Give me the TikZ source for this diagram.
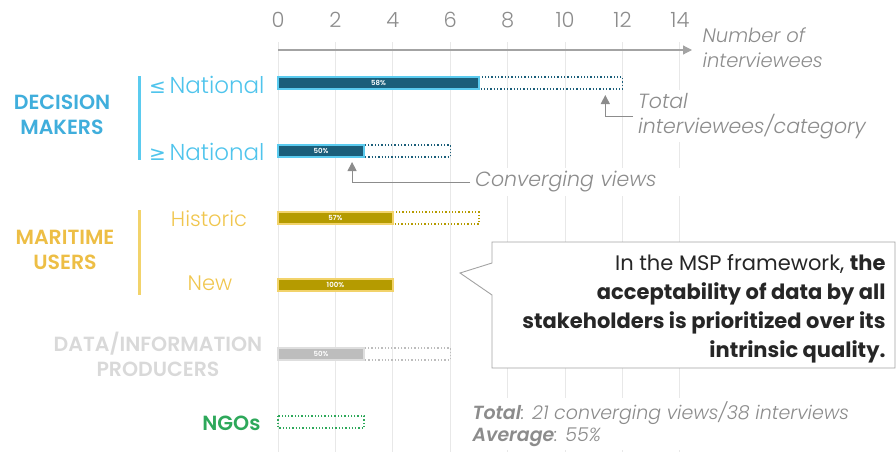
\documentclass[tikz,border=0pt]{standalone}
\usepackage{fontspec}
\IfFontExistsTF{Poppins Light}{%
  \setmainfont{Poppins}[UprightFont=* Light, ItalicFont=* Light Italic,
    BoldFont=* SemiBold, BoldItalicFont=* SemiBold Italic]}{%
  \setmainfont{Poppins}}
\newfontfamily\mspfont{Poppins}
\newfontfamily\symfont{DejaVu Sans}
\usetikzlibrary{arrows.meta}

\definecolor{dmdark}{HTML}{1B5E7A}
\definecolor{dmglow}{HTML}{5BCBEF}
\definecolor{dmtext}{HTML}{4FC4EC}
\definecolor{dmhead}{HTML}{40AEDC}
\definecolor{mudark}{HTML}{B59B00}
\definecolor{muglow}{HTML}{F2D36B}
\definecolor{mutext}{HTML}{F0C64E}
\definecolor{muhead}{HTML}{EDBE45}
\definecolor{dpdark}{HTML}{BDBDBD}
\definecolor{dpglow}{HTML}{DEDEDE}
\definecolor{dptext}{HTML}{D9D9D9}
\definecolor{ngodark}{HTML}{2DA85A}
\definecolor{annot}{HTML}{8C8C8C}
\definecolor{axisgrey}{HTML}{A3A3A3}
\definecolor{gridgrey}{HTML}{E8E8E8}

\tikzset{
  gridline/.style={gridgrey, line width=1pt},
  axisline/.style={axisgrey, line width=1.2pt, -{Triangle[width=9pt,length=9pt]}},
  ticklabel/.style={text=annot, font=\fontsize{21}{24}\selectfont},
  barfill/.style={fill=#1dark, draw=#1glow, line width=1.5pt},
  bartotal/.style={draw=#1dark, dotted, line width=1.3pt},
  barlabel/.style={text=white, font=\bfseries\fontsize{7}{8}\selectfont},
  grouphead/.style={font=\bfseries\fontsize{20.5}{25}\selectfont, align=center},
  sublabel/.style={font=\fontsize{23}{27}\selectfont},
  groupline/.style={line width=3pt},
  annotext/.style={text=annot, font=\itshape\fontsize{20.5}{25}\selectfont,
    align=left, fill=white, inner xsep=5pt},
  annoarrow/.style={annot, line width=1pt, -{Triangle[width=9pt,length=9pt]}},
  calloutbox/.style={draw=axisgrey, fill=white, line width=0.9pt},
}

\begin{document}
\begin{tikzpicture}[x=1pt, y=-1pt]
  \useasboundingbox (0,0) rectangle (896,452);

  % 目盛りと棒
  \begin{scope}[xshift=278pt, x=28.71pt]
    \foreach \v in {0,2,...,14}
      \draw[gridline] (\v,42) -- (\v,452);
    \foreach \v in {0,2,...,14}
      \node[ticklabel] (t\v) at (\v,20) {\v};
    \draw[axisline] (0,50) -- (14.42,50);

    \draw[bartotal=dm] (0,77) rectangle (12,89);
    \draw[barfill=dm] (0,77) rectangle (7,89);
    \draw[bartotal=dm] (0,145) rectangle (6,157);
    \draw[barfill=dm] (0,145) rectangle (3,157);
    \draw[bartotal=mu] (0,212) rectangle (7,224);
    \draw[barfill=mu] (0,212) rectangle (4,224);
    \draw[barfill=mu] (0,279) rectangle (4,291);
    \draw[bartotal=dp] (0,348) rectangle (6,360);
    \draw[barfill=dp] (0,348) rectangle (3,360);
    \draw[bartotal=ngo] (0,416) rectangle (3,428);

    \node[barlabel] (p1) at (3.5,83) {58\%};
    \node[barlabel] (p2) at (1.5,151) {50\%};
    \node[barlabel] (p3) at (2,218) {57\%};
    \node[barlabel] (p4) at (2,285) {100\%};
    \node[barlabel] (p5) at (1.5,354) {50\%};

    \coordinate (tottip) at (11.4,95);
    \coordinate (convtip) at (2.58,162);
  \end{scope}

  % 注記
  \node[text=annot, font=\itshape\fontsize{19.5}{25}\selectfont, align=left, anchor=west]
    (axislabel) at (699,48) {Number of\\interviewees};
  \node[annotext, anchor=west] (totnote) at (633,116) {Total\\interviewees/category};
  \node[annotext, anchor=west, text width=205pt] (convnote) at (470,182) {Converging views};
  \draw[annoarrow] (totnote.west) -| (tottip);
  \draw[annoarrow] (convnote.west) -| (convtip);

  % 左の見出し
  \node[grouphead, text=dmhead] (dm) at (62,115) {DECISION\\MAKERS};
  \draw[groupline, dmglow] (139,76) -- (139,160);
  \node[sublabel, text=dmtext, anchor=east] (dmlow) at (268,85)
    {{\symfont\fontsize{20}{24}\selectfont ≤}\,National};
  \node[sublabel, text=dmtext, anchor=east] (dmhigh) at (268,152)
    {{\symfont\fontsize{20}{24}\selectfont ≥}\,National};

  \node[grouphead, text=muhead] (mu) at (65,250) {MARITIME\\USERS};
  \draw[groupline, muglow] (139,210) -- (139,295);
  \node[sublabel, text=mutext, font=\fontsize{21}{24}\selectfont] (muhist) at (209,219) {Historic};
  \node[sublabel, text=mutext, font=\fontsize{21}{24}\selectfont] (munew) at (210,283) {New};

  \node[grouphead, text=dptext] (dp) at (158,354) {DATA/INFORMATION\\PRODUCERS};
  \node[grouphead, text=ngodark, anchor=east] (ngo) at (264,423) {NGOs};

  % 吹き出し
  \draw[calloutbox] (492,242) -- (895,242) -- (895,368) -- (492,368)
    -- (492,295) -- (460,273) -- (492,263) -- cycle;
  \node[align=right, anchor=east, text=black!85, font=\mspfont\fontsize{21}{29}\selectfont]
    (msp) at (889,309) {In the MSP framework, \textbf{the}\\
    \textbf{acceptability of data by all}\\
    \textbf{stakeholders is prioritized over its}\\
    \textbf{intrinsic quality.}};

  % 合計
  \node[text=annot, font=\itshape\fontsize{19}{22}\selectfont, align=left,
    anchor=west, fill=white] (total) at (469,424)
    {\textbf{Total}: 21 converging views/38 interviews\\\textbf{Average}: 55\%};
\end{tikzpicture}
\end{document}
